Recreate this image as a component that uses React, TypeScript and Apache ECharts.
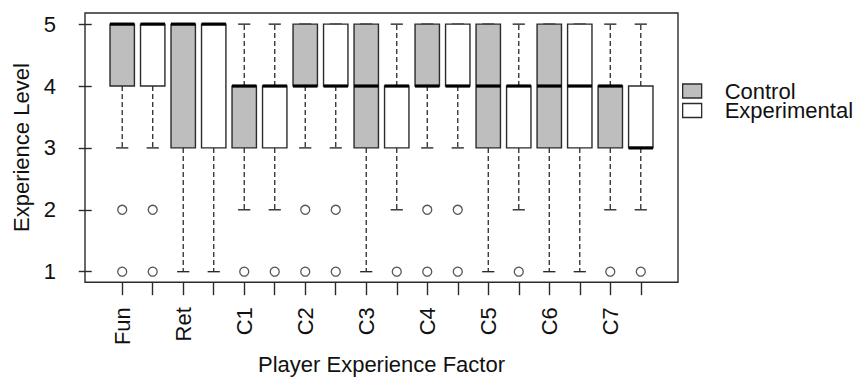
import React, { useEffect, useRef } from "react";
import * as echarts from "echarts";

// Factors (one control + one experimental box each)
const factors = ["Fun", "Ret", "C1", "C2", "C3", "C4", "C5", "C6", "C7"];

// [lower whisker, Q1, median, Q3, upper whisker]
const controlStats = [
  [3, 4, 5, 5, 5], // Fun
  [1, 3, 5, 5, 5], // Ret
  [2, 3, 4, 4, 5], // C1
  [3, 4, 4, 5, 5], // C2
  [1, 3, 4, 5, 5], // C3
  [3, 4, 4, 5, 5], // C4
  [1, 3, 4, 5, 5], // C5
  [1, 3, 4, 5, 5], // C6
  [2, 3, 4, 4, 5], // C7
];
const experimentalStats = [
  [3, 4, 5, 5, 5], // Fun
  [1, 3, 5, 5, 5], // Ret
  [2, 3, 4, 4, 5], // C1
  [3, 4, 4, 5, 5], // C2
  [2, 3, 4, 4, 5], // C3
  [3, 4, 4, 5, 5], // C4
  [2, 3, 4, 4, 5], // C5
  [1, 3, 4, 5, 5], // C6
  [2, 3, 3, 4, 5], // C7
];
const controlOutliers = [[2, 1], [], [1], [2, 1], [], [2, 1], [], [], [1]];
const experimentalOutliers = [[2, 1], [], [1], [2, 1], [1], [2, 1], [1], [], [1]];

const yTicks = [1, 2, 3, 4, 5];

const FONT = "'Liberation Sans', Arial, sans-serif";
const LINE = "#2b2b2b";
const TEXT = "#111";
const CONTROL_FILL = "#BEBEBE";
const EXP_FILL = "#FFFFFF";

const boxPositions = (group: number) => factors.map((_, i) => 2 * i + 1 + group);
const allPositions = factors.flatMap((_, i) => [2 * i + 1, 2 * i + 2]);
const labelPositions = factors.map((_, i) => 2 * i + 1);

function makeRender(fill: string) {
  return (params: any, api: any) => {
    const x = api.value(0);
    const lw = api.value(1);
    const q1 = api.value(2);
    const med = api.value(3);
    const q3 = api.value(4);
    const uw = api.value(5);
    const half = api.size([0.8, 0])[0] / 2;
    const staple = half / 2;
    const c = (y: number) => api.coord([x, y]);
    const [cx, yLw] = c(lw);
    const yQ1 = c(q1)[1];
    const yMed = c(med)[1];
    const yQ3 = c(q3)[1];
    const yUw = c(uw)[1];
    const dashed = { stroke: LINE, lineWidth: 1.3, lineDash: [5, 3], fill: null };
    const solid = { stroke: LINE, lineWidth: 1.4, fill: null };
    const children: any[] = [];
    if (lw < q1) {
      children.push({ type: "line", shape: { x1: cx, y1: yQ1, x2: cx, y2: yLw }, style: dashed });
    }
    if (uw > q3) {
      children.push({ type: "line", shape: { x1: cx, y1: yQ3, x2: cx, y2: yUw }, style: dashed });
    }
    children.push({ type: "line", shape: { x1: cx - staple, y1: yLw, x2: cx + staple, y2: yLw }, style: solid });
    children.push({ type: "line", shape: { x1: cx - staple, y1: yUw, x2: cx + staple, y2: yUw }, style: solid });
    children.push({
      type: "rect",
      shape: { x: cx - half, y: yQ3, width: 2 * half, height: yQ1 - yQ3 },
      style: { fill, stroke: LINE, lineWidth: 1.4 },
    });
    children.push({
      type: "line",
      shape: { x1: cx - half, y1: yMed, x2: cx + half, y2: yMed },
      style: { stroke: "#000", lineWidth: 3.2, fill: null },
    });
    return { type: "group", children };
  };
}

export default function App() {
  const ref = useRef<HTMLDivElement>(null);
  useEffect(() => {
    if (!ref.current) return;
    const chart = echarts.init(ref.current, null, { renderer: "svg" });
    const ctrlPos = boxPositions(0);
    const expPos = boxPositions(1);
    const ctrlData = controlStats.map((s, i) => [ctrlPos[i], ...s]);
    const expData = experimentalStats.map((s, i) => [expPos[i], ...s]);
    const ctrlOut = controlOutliers.flatMap((arr, i) => arr.map((v) => [ctrlPos[i], v]));
    const expOut = experimentalOutliers.flatMap((arr, i) => arr.map((v) => [expPos[i], v]));

    chart.setOption({
      animation: false,
      backgroundColor: "#fff",
      textStyle: { fontFamily: FONT },
      grid: {
        left: 85,
        top: 13,
        width: 593,
        height: 274,
        show: true,
        borderColor: LINE,
        borderWidth: 1.4,
        backgroundColor: "transparent",
      },
      legend: {
        orient: "vertical",
        left: 682,
        top: 80,
        padding: 0,
        icon: "rect",
        itemWidth: 19,
        itemHeight: 14,
        itemGap: -2.5,
        selectedMode: false,
        textStyle: { fontSize: 22, lineHeight: 15, color: TEXT, fontFamily: FONT, padding: [0, 0, 0, 18] },
        data: [
          { name: "Control", itemStyle: { color: CONTROL_FILL, borderColor: LINE, borderWidth: 1.3 } },
          { name: "Experimental", itemStyle: { color: EXP_FILL, borderColor: LINE, borderWidth: 1.3 } },
        ],
      },
      xAxis: {
        type: "value",
        min: -0.22,
        max: 19.22,
        name: "Player Experience Factor",
        nameLocation: "middle",
        nameGap: 68,
        nameTextStyle: { fontSize: 22, color: TEXT, fontFamily: FONT },
        axisLine: { show: false },
        splitLine: { show: false },
        axisTick: { show: true, customValues: allPositions, length: 13, lineStyle: { color: LINE, width: 1.4 } },
        axisLabel: {
          customValues: labelPositions,
          formatter: (v: number) => factors[Math.round((v - 1) / 2)] ?? "",
          rotate: 90,
          margin: 25,
          fontSize: 22,
          color: TEXT,
          fontFamily: FONT,
        },
      },
      yAxis: {
        type: "value",
        min: 0.83,
        max: 5.18,
        name: "Experience Level",
        nameLocation: "middle",
        nameGap: 51,
        nameTextStyle: { fontSize: 22, color: TEXT, fontFamily: FONT },
        axisLine: { show: false },
        splitLine: { show: false },
        axisTick: { show: true, customValues: yTicks, length: 13, lineStyle: { color: LINE, width: 1.4 } },
        axisLabel: { customValues: yTicks, margin: 29, fontSize: 22, color: TEXT, fontFamily: FONT },
      },
      series: [
        {
          name: "Control",
          type: "custom",
          renderItem: makeRender(CONTROL_FILL),
          encode: { x: 0, y: [1, 2, 3, 4, 5] },
          itemStyle: { color: CONTROL_FILL },
          data: ctrlData,
        },
        {
          name: "Experimental",
          type: "custom",
          renderItem: makeRender(EXP_FILL),
          encode: { x: 0, y: [1, 2, 3, 4, 5] },
          itemStyle: { color: EXP_FILL },
          data: expData,
        },
        {
          name: "Control outliers",
          type: "scatter",
          symbol: "circle",
          symbolSize: 9,
          itemStyle: { color: "#fff", borderColor: LINE, borderWidth: 1.3 },
          data: ctrlOut,
        },
        {
          name: "Experimental outliers",
          type: "scatter",
          symbol: "circle",
          symbolSize: 9,
          itemStyle: { color: "#fff", borderColor: LINE, borderWidth: 1.3 },
          data: expOut,
        },
      ],
    });
    return () => chart.dispose();
  }, []);
  return (
    <div
      ref={ref}
      style={{ position: "fixed", left: 0, top: 0, width: 855, height: 380, background: "#fff" }}
    />
  );
}
